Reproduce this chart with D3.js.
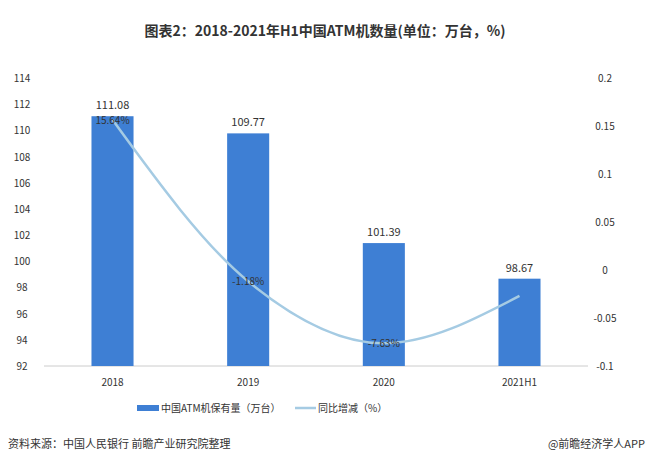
<!DOCTYPE html>
<html><head><meta charset="utf-8">
<script src="https://cdn.jsdelivr.net/npm/d3@7"></script>
<style>body{margin:0;background:#fff;font-family:"Noto Sans CJK SC","Noto Sans",sans-serif;}</style>
</head><body><svg id="c" width="650" height="473"></svg>
<script>
var categories = ["2018", "2019", "2020", "2021H1"];
var atmCount = [111.08, 109.77, 101.39, 98.67];
var yoyGrowth = [0.1564, -0.0118, -0.0763, -0.027];
var yoyLabels = ["15.64%", "-1.18%", "-7.63%", null];
var leftTicks = d3.range(92, 115, 2);
var rightTicks = [-0.1, -0.05, 0, 0.05, 0.1, 0.15, 0.2];

var svg = d3.select("#c");
var font = '"Noto Sans CJK SC", sans-serif';

svg.append("text").attr("x", 325).attr("y", 36).attr("text-anchor", "middle")
    .attr("font-size", 14).attr("font-weight", "bold").attr("fill", "#333").attr("font-family", font)
    .text("图表2：2018-2021年H1中国ATM机数量(单位：万台，%)");

var x = d3.scaleBand().domain(categories).range([44, 588]).paddingInner(0.69).paddingOuter(0.35);
var yL = d3.scaleLinear().domain([92, 114]).range([366, 78]);
var yR = d3.scaleLinear().domain([-0.1, 0.2]).range([366, 78]);

svg.selectAll(".lt").data(leftTicks).enter().append("text")
    .attr("x", 22).attr("y", function(d) { return yL(d) + 4; }).attr("text-anchor", "middle")
    .attr("font-size", 10).attr("fill", "#333").text(function(d) { return d; });
svg.selectAll(".rt").data(rightTicks).enter().append("text")
    .attr("x", 605).attr("y", function(d) { return yR(d) + 4; }).attr("text-anchor", "middle")
    .attr("font-size", 10).attr("fill", "#333").text(function(d) { return +d.toFixed(2); });

svg.append("line").attr("x1", 44).attr("x2", 588).attr("y1", 366).attr("y2", 366)
    .attr("stroke", "#ccc");

svg.selectAll(".bar").data(atmCount).enter().append("rect")
    .attr("x", function(d, i) { return x(categories[i]); })
    .attr("width", x.bandwidth())
    .attr("y", function(d) { return yL(d); })
    .attr("height", function(d) { return 366 - yL(d); })
    .attr("fill", "#3e7fd4");

svg.selectAll(".bl").data(atmCount).enter().append("text")
    .attr("x", function(d, i) { return x(categories[i]) + x.bandwidth() / 2; })
    .attr("y", function(d) { return yL(d) - 7; }).attr("text-anchor", "middle")
    .attr("font-size", 11).attr("fill", "#333").text(function(d) { return d.toFixed(2); });

svg.selectAll(".xl").data(categories).enter().append("text")
    .attr("x", function(d) { return x(d) + x.bandwidth() / 2; }).attr("y", 386)
    .attr("text-anchor", "middle").attr("font-size", 10).attr("fill", "#333").text(function(d) { return d; });

var line = d3.line()
    .x(function(d, i) { return x(categories[i]) + x.bandwidth() / 2; })
    .y(function(d) { return yR(d); })
    .curve(d3.curveMonotoneX);
svg.append("path").datum(yoyGrowth).attr("d", line).attr("fill", "none")
    .attr("stroke", "#a5cbe3").attr("stroke-width", 2.5);

svg.selectAll(".pl").data(yoyGrowth).enter().filter(function(d, i) { return yoyLabels[i]; })
    .append("text")
    .attr("x", function(d) { var i = yoyGrowth.indexOf(d); return x(categories[i]) + x.bandwidth() / 2; })
    .attr("y", function(d) { return yR(d) + 4; }).attr("text-anchor", "middle")
    .attr("font-size", 10).attr("fill", "#333")
    .text(function(d) { return yoyLabels[yoyGrowth.indexOf(d)]; });

var lg = svg.append("g").attr("font-size", 10).attr("fill", "#333");
lg.append("rect").attr("x", 137).attr("y", 405).attr("width", 22).attr("height", 6).attr("fill", "#3e7fd4");
lg.append("text").attr("x", 161).attr("y", 412).text("中国ATM机保有量（万台）");
lg.append("line").attr("x1", 295).attr("x2", 316).attr("y1", 408).attr("y2", 408)
    .attr("stroke", "#a5cbe3").attr("stroke-width", 2.5);
lg.append("text").attr("x", 318).attr("y", 412).text("同比增减（%）");

svg.append("text").attr("x", 8).attr("y", 448).attr("font-size", 11).attr("fill", "#333")
    .text("资料来源：中国人民银行 前瞻产业研究院整理");
svg.append("text").attr("x", 645).attr("y", 448).attr("text-anchor", "end").attr("font-size", 11)
    .attr("fill", "#333").text("@前瞻经济学人APP");
</script></body></html>
